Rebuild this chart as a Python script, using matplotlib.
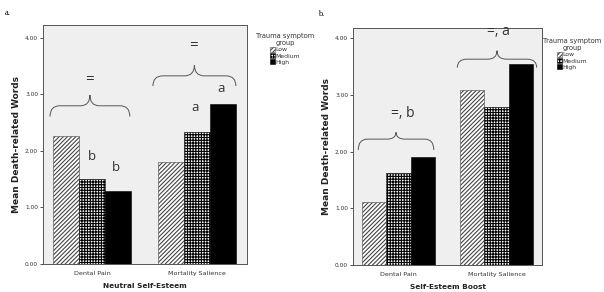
import matplotlib
matplotlib.use("Agg")
import matplotlib.pyplot as plt
import numpy as np
from matplotlib.patches import Patch, PathPatch
from matplotlib.path import Path

conditions = ["Dental Pain", "Mortality Salience"]
groups = ["Low", "Medium", "High"]

# panel a: Neutral Self-Esteem
neutral = {
    "Low": [2.26, 1.80],
    "Medium": [1.50, 2.34],
    "High": [1.30, 2.84],
}
# panel b: Self-Esteem Boost
boost = {
    "Low": [1.11, 3.08],
    "Medium": [1.62, 2.79],
    "High": [1.91, 3.55],
}
yticks = [0, 1, 2, 3, 4]

plt.rcParams["hatch.linewidth"] = 0.8
styles = {
    "Low": dict(facecolor="white", edgecolor="#444444", hatch="////////"),
    "Medium": dict(facecolor="white", edgecolor="black", hatch="++++++"),
    "High": dict(facecolor="black", edgecolor="black", hatch=None),
}
AX_BG = "#efefef"
TXT = "#333333"


def brace(ax, x0, x1, y_end, y_flat, y_tip, color="#555555"):
    xc = (x0 + x1) / 2
    dx = (x1 - x0) * 0.12
    verts = [
        (x0, y_end), (x0, y_flat), (x0 + dx, y_flat),
        (xc - dx, y_flat),
        (xc, y_flat), (xc, y_tip),
        (xc, y_flat), (xc + dx, y_flat),
        (x1 - dx, y_flat),
        (x1, y_flat), (x1, y_end),
    ]
    codes = [Path.MOVETO, Path.CURVE3, Path.CURVE3, Path.LINETO,
             Path.CURVE3, Path.CURVE3, Path.CURVE3, Path.CURVE3,
             Path.LINETO, Path.CURVE3, Path.CURVE3]
    ax.add_patch(PathPatch(Path(verts, codes), fill=False, lw=0.7,
                           edgecolor=color, clip_on=False))


def note(ax, x, y, s, size=9.5):
    ax.text(x, y, s, fontsize=size, ha="center", va="center", color=TXT,
            family="Open Sans")


def panel(fig, rect, data, xlabel, ytop, xlim):
    ax = fig.add_axes(rect)
    ax.set_facecolor(AX_BG)
    x = np.arange(len(conditions))
    w = 0.25
    for i, g in enumerate(groups):
        ax.bar(x + (i - 1) * w, data[g], width=w, linewidth=0.4, **styles[g])
    ax.set_xlim(*xlim)
    ax.set_ylim(0, ytop)
    ax.set_yticks(yticks)
    ax.set_yticklabels([f"{v:.2f}" for v in yticks])
    ax.set_xticks(x)
    ax.set_xticklabels(conditions)
    ax.tick_params(axis="y", labelsize=4.2, length=2.5, width=0.6, pad=1, colors=TXT)
    ax.tick_params(axis="x", labelsize=4.6, length=0, pad=5, colors=TXT)
    for s in ax.spines.values():
        s.set_color("#555555")
        s.set_linewidth(0.7)
    ax.set_ylabel("Mean Death-related Words", fontsize=6.5, fontweight="bold",
                  labelpad=3, color="#222222")
    ax.set_xlabel(xlabel, fontsize=5.3, fontweight="bold", labelpad=5, color="#222222")
    return ax


def legend(fig, ax, x, y):
    handles = [Patch(label=g, linewidth=0.4, **styles[g]) for g in groups]
    leg = ax.legend(handles=handles, title="Trauma symptom\ngroup", loc="upper center",
                    bbox_to_anchor=(x, y), bbox_transform=fig.transFigure,
                    frameon=False, fontsize=4.4, title_fontsize=4.8,
                    handlelength=0.9, handleheight=0.9, handletextpad=0.1,
                    labelspacing=0.1, borderpad=0)
    for t in leg.get_texts():
        t.set_color(TXT)
    leg.get_title().set_color(TXT)
    leg.get_title().set_multialignment("center")


fig = plt.figure(figsize=(6.04, 2.92), dpi=100)

# panel a
ax1 = panel(fig, [43 / 604, 28 / 292, 204 / 604, 239 / 292], neutral,
            "Neutral Self-Esteem", 4.23, (-0.467, 1.476))
legend(fig, ax1, 285 / 604, 1 - 30 / 292)
brace(ax1, -0.40, 0.36, 2.61, 2.80, 2.99)
brace(ax1, 0.58, 1.37, 3.15, 3.33, 3.52)
note(ax1, -0.02, 3.27, "=", 11)
note(ax1, 0.97, 3.86, "=", 11)
note(ax1, 0.0, 1.90, "b")
note(ax1, 0.23, 1.70, "b")
note(ax1, 0.98, 2.77, "a")
note(ax1, 1.23, 3.10, "a")
fig.text(5 / 604, 1 - 13 / 292, "a.", fontsize=6, family="Liberation Serif", va="center")

# panel b
ax2 = panel(fig, [353 / 604, 27 / 292, 189 / 604, 237 / 292], boost,
            "Self-Esteem Boost", 4.18, (-0.464, 1.464))
legend(fig, ax2, 572 / 604, 1 - 35 / 292)
brace(ax2, -0.41, 0.36, 2.03, 2.22, 2.34)
brace(ax2, 0.60, 1.41, 3.48, 3.63, 3.78)
note(ax2, 0.04, 2.68, "=, b", 10)
note(ax2, 1.02, 4.12, "=, a", 10)
fig.text(318 / 604, 1 - 14 / 292, "b.", fontsize=6, family="Liberation Serif", va="center")

fig.savefig("out.png", dpi=100, facecolor="white")
